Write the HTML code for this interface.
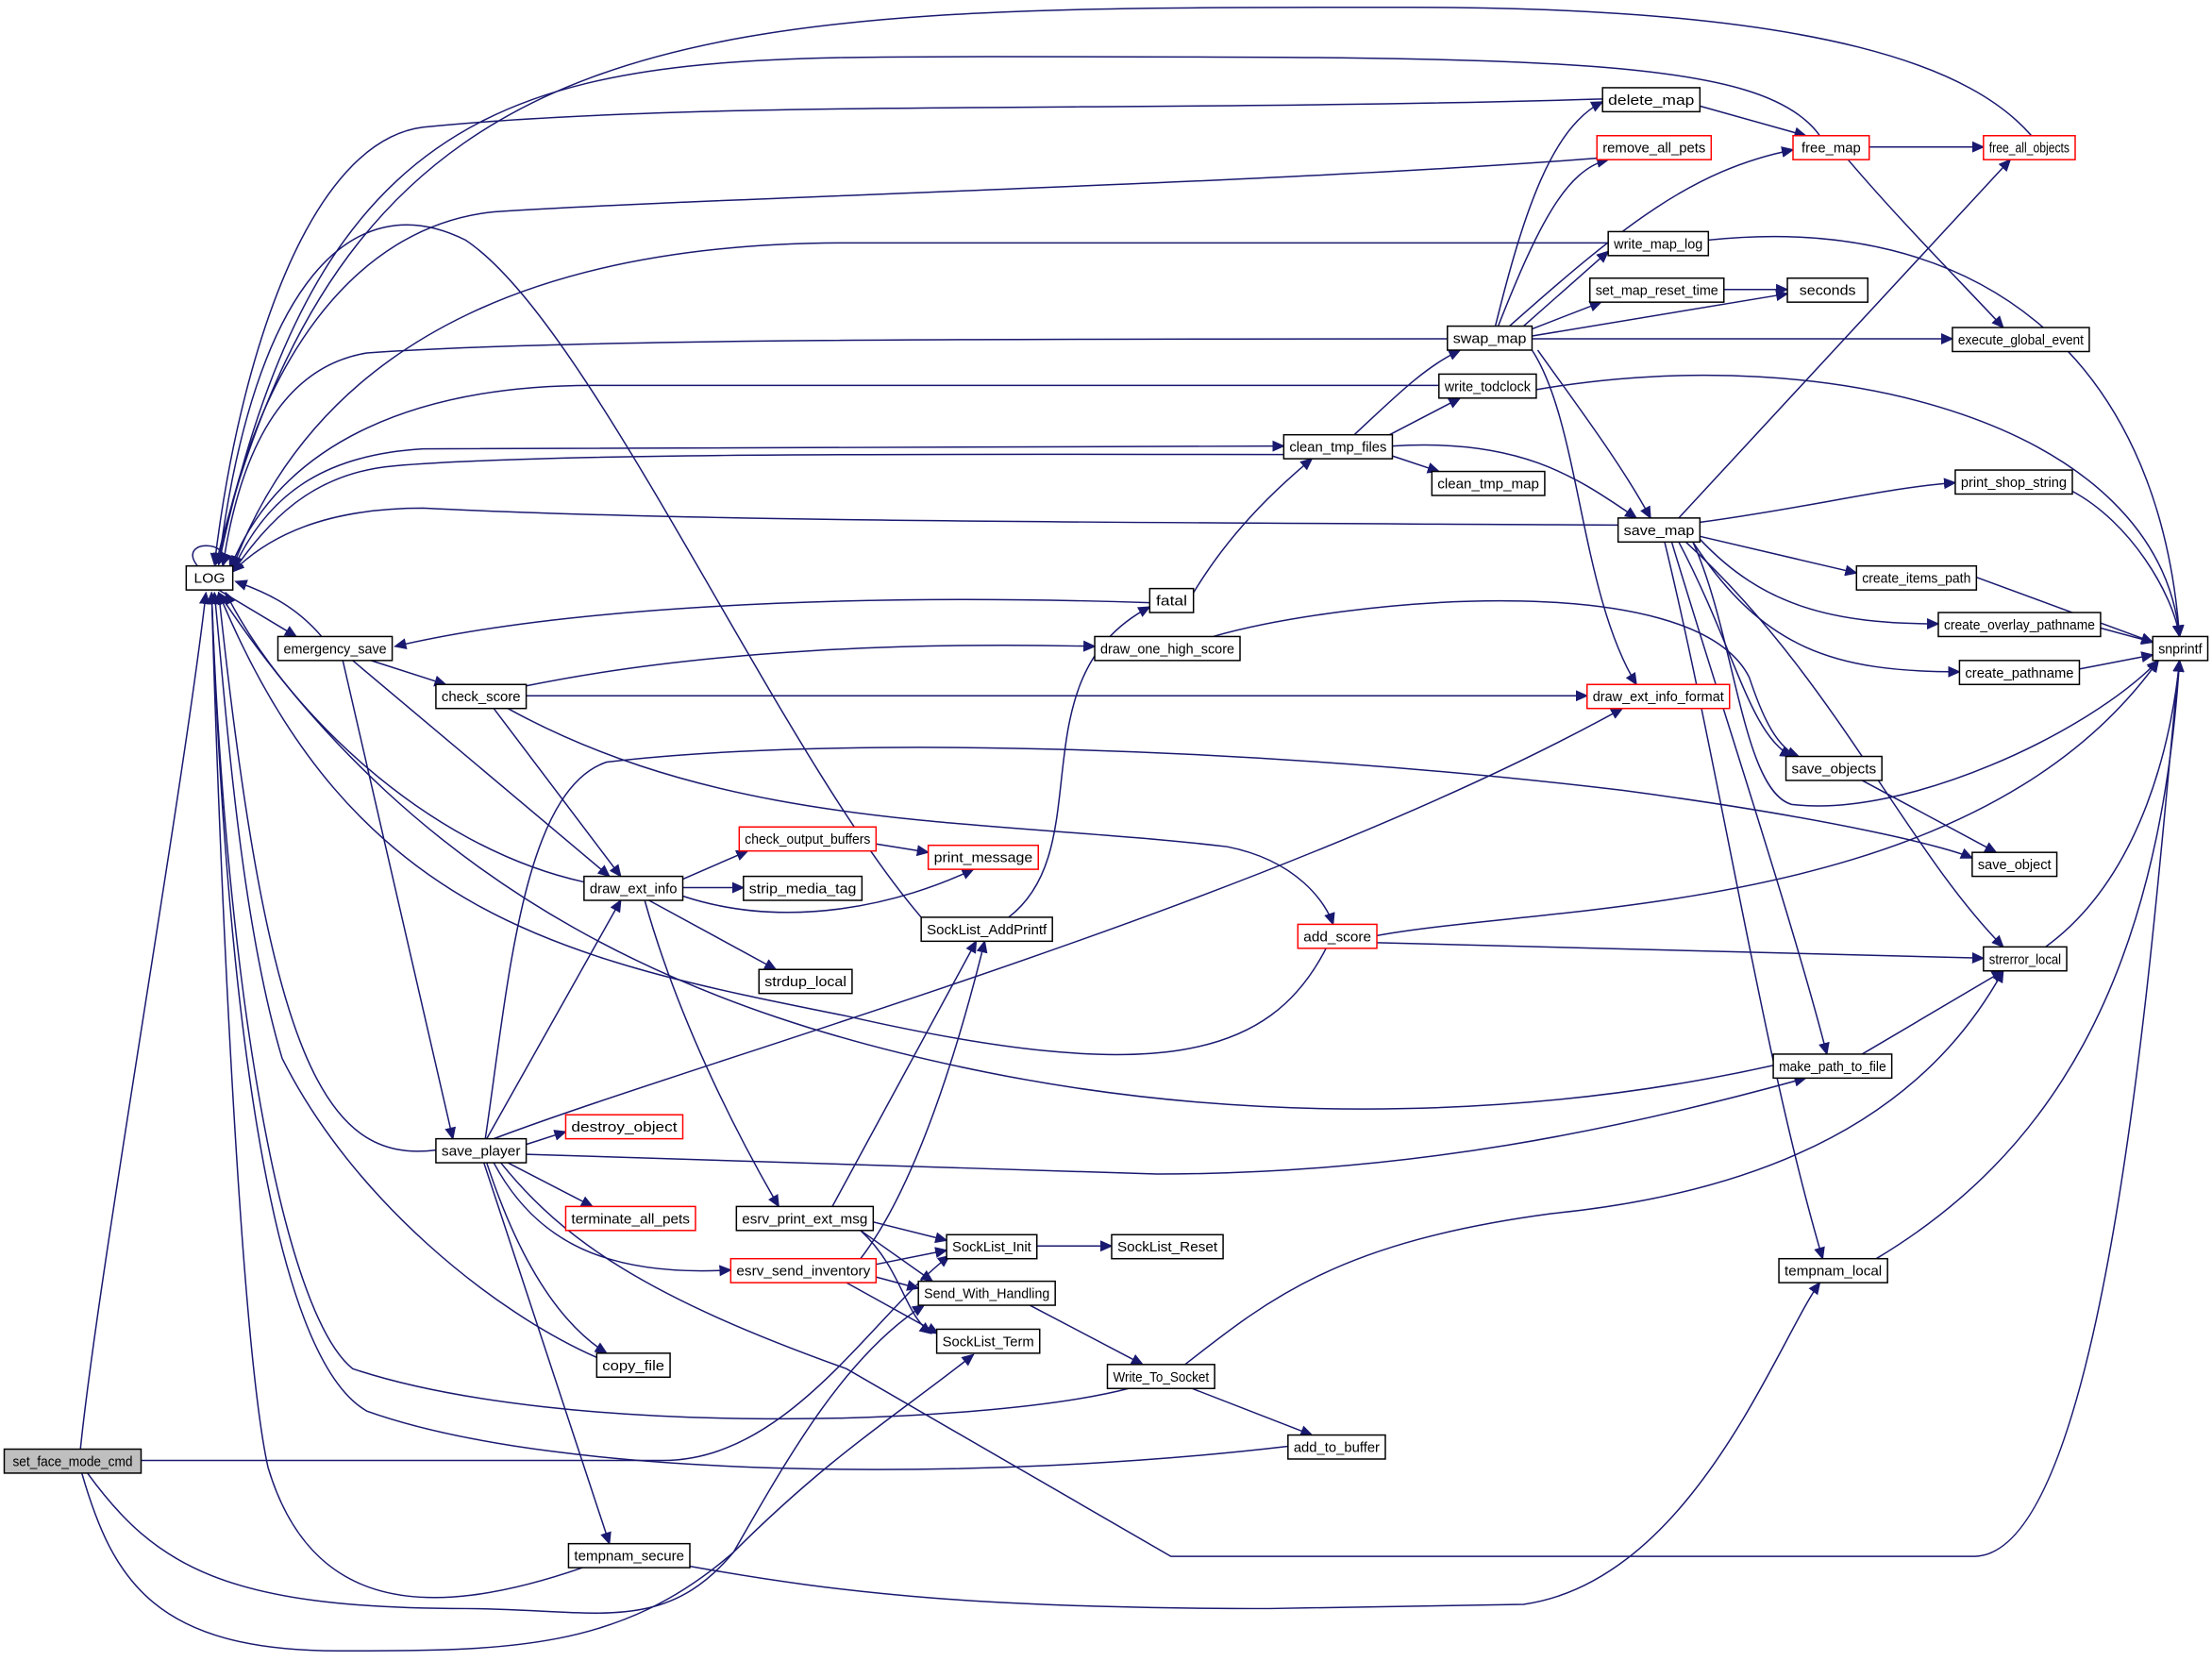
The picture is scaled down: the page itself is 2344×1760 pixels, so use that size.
<!DOCTYPE html>
<html><head><meta charset="utf-8"><style>
html,body{margin:0;padding:0;background:#fff;}
svg{display:block}
text{font-family:"Liberation Sans",sans-serif;font-size:10px;fill:#000}
</style></head><body>
<svg width="2344" height="1760" viewBox="0 0 1568 1177" xmlns="http://www.w3.org/2000/svg">
<defs><marker id="a" markerUnits="userSpaceOnUse" markerWidth="9" markerHeight="8" refX="8" refY="4" orient="auto"><path d="M0,0 L9,4 L0,8 z" fill="#191970"/></marker></defs>
<g fill="none" stroke="#191970" stroke-width="1" marker-end="url(#a)">
<path d="M57,1027 C70,900 130,560 146,420"/>
<path d="M100,1035 L470,1035 C560,1035 620,930 673,890"/>
<path d="M62,1044 C110,1110 160,1140 330,1140 C420,1140 470,1160 520,1100 C560,1030 600,960 655,925"/>
<path d="M58,1044 C80,1120 110,1170 240,1170 C360,1170 440,1170 520,1100 C590,1030 640,1000 690,960"/>
<path d="M140,401 C125,382 165,382 158,400"/>
<path d="M155,418 L210,451"/>
<path d="M228,451 C210,430 190,420 167,412"/>
<path d="M263,468 L316,485"/>
<path d="M250,468 L432,621"/>
<path d="M243,468 L321,807"/>
<path d="M373,486 C500,460 650,455 776,458"/>
<path d="M373,493 L1125,493"/>
<path d="M350,502 L440,621"/>
<path d="M360,502 C520,590 700,580 870,600 C920,610 940,640 945,655"/>
<path d="M815,427 C600,420 400,430 280,458"/>
<path d="M846,420 C870,380 900,350 930,325"/>
<path d="M860,451 C950,425 1200,400 1240,480 C1250,510 1260,530 1275,536"/>
<path d="M414,625 C300,600 200,500 160,420"/>
<path d="M484,623 L530,603"/>
<path d="M484,629 L527,629"/>
<path d="M484,635 C560,660 640,640 690,616"/>
<path d="M460,638 L550,687"/>
<path d="M457,638 C480,720 520,800 552,855"/>
<path d="M621,598 L658,604"/>
<path d="M715,650 C780,600 720,480 815,430"/>
<path d="M309,815 C230,825 190,750 155,420"/>
<path d="M373,811 L401,802"/>
<path d="M360,824 L420,855"/>
<path d="M350,824 C380,880 430,905 518,900"/>
<path d="M345,824 C370,900 400,940 430,959"/>
<path d="M343,824 L432,1094"/>
<path d="M345,807 L440,638"/>
<path d="M344,807 C360,700 370,560 430,540 C600,520 900,530 1150,560 C1300,580 1380,600 1398,608"/>
<path d="M350,807 C500,750 900,640 1150,502"/>
<path d="M373,818 L820,832 C1000,832 1150,800 1280,764"/>
<path d="M355,824 C400,880 460,920 600,970 L830,1103 L1400,1103 C1500,1100 1530,600 1545,468"/>
<path d="M413,1111 C300,1150 220,1140 190,1040 C170,950 155,600 150,420"/>
<path d="M489,1110 C600,1130 700,1140 900,1140 L1080,1137 C1200,1120 1260,950 1290,909"/>
<path d="M423,962 C350,930 250,850 200,750 C170,650 160,500 152,420"/>
<path d="M590,855 L692,667"/>
<path d="M619,866 L671,879"/>
<path d="M610,872 L661,908"/>
<path d="M610,872 C640,900 640,930 660,945"/>
<path d="M621,896 L671,886"/>
<path d="M621,905 L651,913"/>
<path d="M600,909 L665,945"/>
<path d="M610,892 C650,840 680,740 698,667"/>
<path d="M653,650 C550,530 420,230 330,170 C250,130 180,200 155,400"/>
<path d="M735,883 L788,883"/>
<path d="M730,925 L810,967"/>
<path d="M800,984 C700,1010 400,1020 250,970 C200,930 160,700 150,420"/>
<path d="M840,967 C900,920 950,880 1100,860 C1300,840 1380,760 1420,688"/>
<path d="M845,984 L930,1017"/>
<path d="M913,1025 C700,1050 400,1050 260,1000 C190,960 160,700 150,420"/>
<path d="M940,672 C900,750 820,770 600,720 C400,680 250,650 155,420"/>
<path d="M976,663 C1100,640 1400,650 1530,468"/>
<path d="M976,668 L1406,679"/>
<path d="M1257,755 C1100,790 900,800 700,760 C500,720 300,640 155,420"/>
<path d="M1320,747 L1420,688"/>
<path d="M1330,892 C1450,820 1530,700 1545,468"/>
<path d="M1450,671 C1520,620 1540,520 1545,468"/>
<path d="M1147,372 C800,370 500,370 300,360 C230,360 190,380 165,405"/>
<path d="M1190,367 L1425,113"/>
<path d="M1205,370 C1280,360 1340,345 1386,342"/>
<path d="M1200,384 C1230,450 1235,560 1270,570 C1350,580 1480,520 1530,468"/>
<path d="M1205,380 L1316,406"/>
<path d="M1205,382 C1250,430 1300,442 1374,442"/>
<path d="M1200,384 C1250,460 1300,476 1389,476"/>
<path d="M1190,384 C1230,460 1240,520 1270,536"/>
<path d="M1195,384 C1300,480 1350,600 1420,671"/>
<path d="M1185,384 C1220,500 1270,650 1295,747"/>
<path d="M1180,384 C1220,550 1250,750 1292,892"/>
<path d="M1060,231 C1080,150 1100,90 1136,72"/>
<path d="M1062,231 C1090,160 1110,120 1140,113"/>
<path d="M1070,231 C1150,160 1200,120 1271,106"/>
<path d="M1080,231 L1140,178"/>
<path d="M1086,233 L1135,214"/>
<path d="M1086,238 L1267,208"/>
<path d="M1086,240 L1384,240"/>
<path d="M1090,248 C1120,290 1150,330 1170,367"/>
<path d="M1086,248 C1120,300 1120,420 1160,485"/>
<path d="M1026,240 C700,240 400,240 260,250 C200,260 170,320 158,401"/>
<path d="M1222,205 L1267,205"/>
<path d="M1205,75 L1280,96"/>
<path d="M1136,70 C800,80 500,70 300,90 C220,100 170,250 152,400"/>
<path d="M1132,112 C900,130 500,140 350,150 C250,160 180,260 155,400"/>
<path d="M1140,172 L600,172 C400,172 230,230 165,402"/>
<path d="M1211,170 C1400,150 1530,250 1545,451"/>
<path d="M1020,273 L420,273 C300,273 200,310 163,403"/>
<path d="M1089,276 C1300,240 1530,300 1545,451"/>
<path d="M910,322 C700,322 400,320 280,330 C220,335 190,370 165,405"/>
<path d="M166,402 C190,350 230,322 300,318 L910,316"/>
<path d="M960,308 C990,280 1010,260 1035,248"/>
<path d="M985,308 L1035,282"/>
<path d="M987,323 L1020,334"/>
<path d="M987,316 C1080,310 1120,340 1160,367"/>
<path d="M1325,104 L1406,104"/>
<path d="M1290,96 C1250,40 1100,40 700,40 C400,40 230,40 155,400"/>
<path d="M1310,113 C1350,160 1400,210 1420,232"/>
<path d="M1440,96 C1400,50 1300,5 1000,5 C500,5 250,0 153,400"/>
<path d="M1469,348 C1510,370 1540,420 1545,451"/>
<path d="M1401,409 L1526,455"/>
<path d="M1489,445 L1526,455"/>
<path d="M1474,474 L1526,464"/>
<path d="M1320,553 L1415,604"/>
</g>
<g stroke-width="1">
<rect x="3" y="1027" width="97" height="17" fill="#bfbfbf" stroke="#000"/>
<g fill="#fff" stroke="#000">
<rect x="132" y="401" width="33" height="17"/>
<rect x="197" y="451" width="81" height="17"/>
<rect x="309" y="485" width="64" height="17"/>
<rect x="414" y="621" width="70" height="17"/>
<rect x="309" y="807" width="64" height="17"/>
<rect x="522" y="855" width="97" height="17"/>
<rect x="423" y="959" width="52" height="17"/>
<rect x="403" y="1094" width="86" height="17"/>
<rect x="527" y="621" width="84" height="17"/>
<rect x="538" y="687" width="66" height="17"/>
<rect x="653" y="650" width="93" height="17"/>
<rect x="815" y="417" width="31" height="17"/>
<rect x="776" y="451" width="103" height="17"/>
<rect x="910" y="308" width="77" height="17"/>
<rect x="1015" y="334" width="80" height="17"/>
<rect x="1020" y="265" width="69" height="17"/>
<rect x="1026" y="231" width="60" height="17"/>
<rect x="1136" y="62" width="69" height="17"/>
<rect x="1140" y="164" width="71" height="17"/>
<rect x="1127" y="197" width="95" height="17"/>
<rect x="1267" y="197" width="57" height="17"/>
<rect x="1384" y="232" width="97" height="17"/>
<rect x="1147" y="367" width="58" height="17"/>
<rect x="1386" y="333" width="83" height="17"/>
<rect x="1316" y="401" width="85" height="17"/>
<rect x="1374" y="434" width="115" height="17"/>
<rect x="1389" y="468" width="85" height="17"/>
<rect x="1526" y="451" width="39" height="17"/>
<rect x="1266" y="536" width="68" height="17"/>
<rect x="1398" y="604" width="60" height="17"/>
<rect x="1406" y="671" width="59" height="17"/>
<rect x="1257" y="747" width="84" height="17"/>
<rect x="1261" y="892" width="77" height="17"/>
<rect x="671" y="875" width="64" height="17"/>
<rect x="788" y="875" width="79" height="17"/>
<rect x="651" y="908" width="97" height="17"/>
<rect x="664" y="942" width="73" height="17"/>
<rect x="785" y="967" width="76" height="17"/>
<rect x="913" y="1017" width="69" height="17"/>
</g>
<g fill="#fff" stroke="#ff0000">
<rect x="401" y="790" width="83" height="17"/>
<rect x="401" y="855" width="92" height="17"/>
<rect x="518" y="892" width="103" height="17"/>
<rect x="524" y="586" width="97" height="17"/>
<rect x="658" y="599" width="78" height="17"/>
<rect x="920" y="655" width="56" height="17"/>
<rect x="1132" y="96" width="81" height="17"/>
<rect x="1271" y="96" width="54" height="17"/>
<rect x="1406" y="96" width="65" height="17"/>
<rect x="1125" y="485" width="101" height="17"/>
</g>
</g>
<g text-anchor="middle">
<text x="51.5" y="1039" textLength="85" lengthAdjust="spacingAndGlyphs">set_face_mode_cmd</text>
<text x="148.5" y="413" textLength="22" lengthAdjust="spacingAndGlyphs">LOG</text>
<text x="237.5" y="463" textLength="73" lengthAdjust="spacingAndGlyphs">emergency_save</text>
<text x="341" y="497" textLength="56" lengthAdjust="spacingAndGlyphs">check_score</text>
<text x="449" y="633" textLength="62" lengthAdjust="spacingAndGlyphs">draw_ext_info</text>
<text x="341" y="819" textLength="56" lengthAdjust="spacingAndGlyphs">save_player</text>
<text x="570.5" y="867" textLength="89" lengthAdjust="spacingAndGlyphs">esrv_print_ext_msg</text>
<text x="449" y="971" textLength="44" lengthAdjust="spacingAndGlyphs">copy_file</text>
<text x="446" y="1106" textLength="78" lengthAdjust="spacingAndGlyphs">tempnam_secure</text>
<text x="569" y="633" textLength="76" lengthAdjust="spacingAndGlyphs">strip_media_tag</text>
<text x="571" y="699" textLength="58" lengthAdjust="spacingAndGlyphs">strdup_local</text>
<text x="699.5" y="662" textLength="85" lengthAdjust="spacingAndGlyphs">SockList_AddPrintf</text>
<text x="830.5" y="429" textLength="22" lengthAdjust="spacingAndGlyphs">fatal</text>
<text x="827.5" y="463" textLength="95" lengthAdjust="spacingAndGlyphs">draw_one_high_score</text>
<text x="948.5" y="320" textLength="69" lengthAdjust="spacingAndGlyphs">clean_tmp_files</text>
<text x="1055" y="346" textLength="72" lengthAdjust="spacingAndGlyphs">clean_tmp_map</text>
<text x="1054.5" y="277" textLength="61" lengthAdjust="spacingAndGlyphs">write_todclock</text>
<text x="1056" y="243" textLength="52" lengthAdjust="spacingAndGlyphs">swap_map</text>
<text x="1170.5" y="74" textLength="61" lengthAdjust="spacingAndGlyphs">delete_map</text>
<text x="1175.5" y="176" textLength="63" lengthAdjust="spacingAndGlyphs">write_map_log</text>
<text x="1174.5" y="209" textLength="87" lengthAdjust="spacingAndGlyphs">set_map_reset_time</text>
<text x="1295.5" y="209" textLength="40" lengthAdjust="spacingAndGlyphs">seconds</text>
<text x="1432.5" y="244" textLength="89" lengthAdjust="spacingAndGlyphs">execute_global_event</text>
<text x="1176" y="379" textLength="50" lengthAdjust="spacingAndGlyphs">save_map</text>
<text x="1427.5" y="345" textLength="75" lengthAdjust="spacingAndGlyphs">print_shop_string</text>
<text x="1358.5" y="413" textLength="77" lengthAdjust="spacingAndGlyphs">create_items_path</text>
<text x="1431.5" y="446" textLength="107" lengthAdjust="spacingAndGlyphs">create_overlay_pathname</text>
<text x="1431.5" y="480" textLength="77" lengthAdjust="spacingAndGlyphs">create_pathname</text>
<text x="1545.5" y="463" textLength="31" lengthAdjust="spacingAndGlyphs">snprintf</text>
<text x="1300" y="548" textLength="60" lengthAdjust="spacingAndGlyphs">save_objects</text>
<text x="1428" y="616" textLength="52" lengthAdjust="spacingAndGlyphs">save_object</text>
<text x="1435.5" y="683" textLength="51" lengthAdjust="spacingAndGlyphs">strerror_local</text>
<text x="1299" y="759" textLength="76" lengthAdjust="spacingAndGlyphs">make_path_to_file</text>
<text x="1299.5" y="904" textLength="69" lengthAdjust="spacingAndGlyphs">tempnam_local</text>
<text x="703" y="887" textLength="56" lengthAdjust="spacingAndGlyphs">SockList_Init</text>
<text x="827.5" y="887" textLength="71" lengthAdjust="spacingAndGlyphs">SockList_Reset</text>
<text x="699.5" y="920" textLength="89" lengthAdjust="spacingAndGlyphs">Send_With_Handling</text>
<text x="700.5" y="954" textLength="65" lengthAdjust="spacingAndGlyphs">SockList_Term</text>
<text x="823" y="979" textLength="68" lengthAdjust="spacingAndGlyphs">Write_To_Socket</text>
<text x="947.5" y="1029" textLength="61" lengthAdjust="spacingAndGlyphs">add_to_buffer</text>
<text x="442.5" y="802" textLength="75" lengthAdjust="spacingAndGlyphs">destroy_object</text>
<text x="447" y="867" textLength="84" lengthAdjust="spacingAndGlyphs">terminate_all_pets</text>
<text x="569.5" y="904" textLength="95" lengthAdjust="spacingAndGlyphs">esrv_send_inventory</text>
<text x="572.5" y="598" textLength="89" lengthAdjust="spacingAndGlyphs">check_output_buffers</text>
<text x="697" y="611" textLength="70" lengthAdjust="spacingAndGlyphs">print_message</text>
<text x="948" y="667" textLength="48" lengthAdjust="spacingAndGlyphs">add_score</text>
<text x="1172.5" y="108" textLength="73" lengthAdjust="spacingAndGlyphs">remove_all_pets</text>
<text x="1298" y="108" textLength="42" lengthAdjust="spacingAndGlyphs">free_map</text>
<text x="1438.5" y="108" textLength="57" lengthAdjust="spacingAndGlyphs">free_all_objects</text>
<text x="1175.5" y="497" textLength="93" lengthAdjust="spacingAndGlyphs">draw_ext_info_format</text>
</g>
</svg>
</body></html>
